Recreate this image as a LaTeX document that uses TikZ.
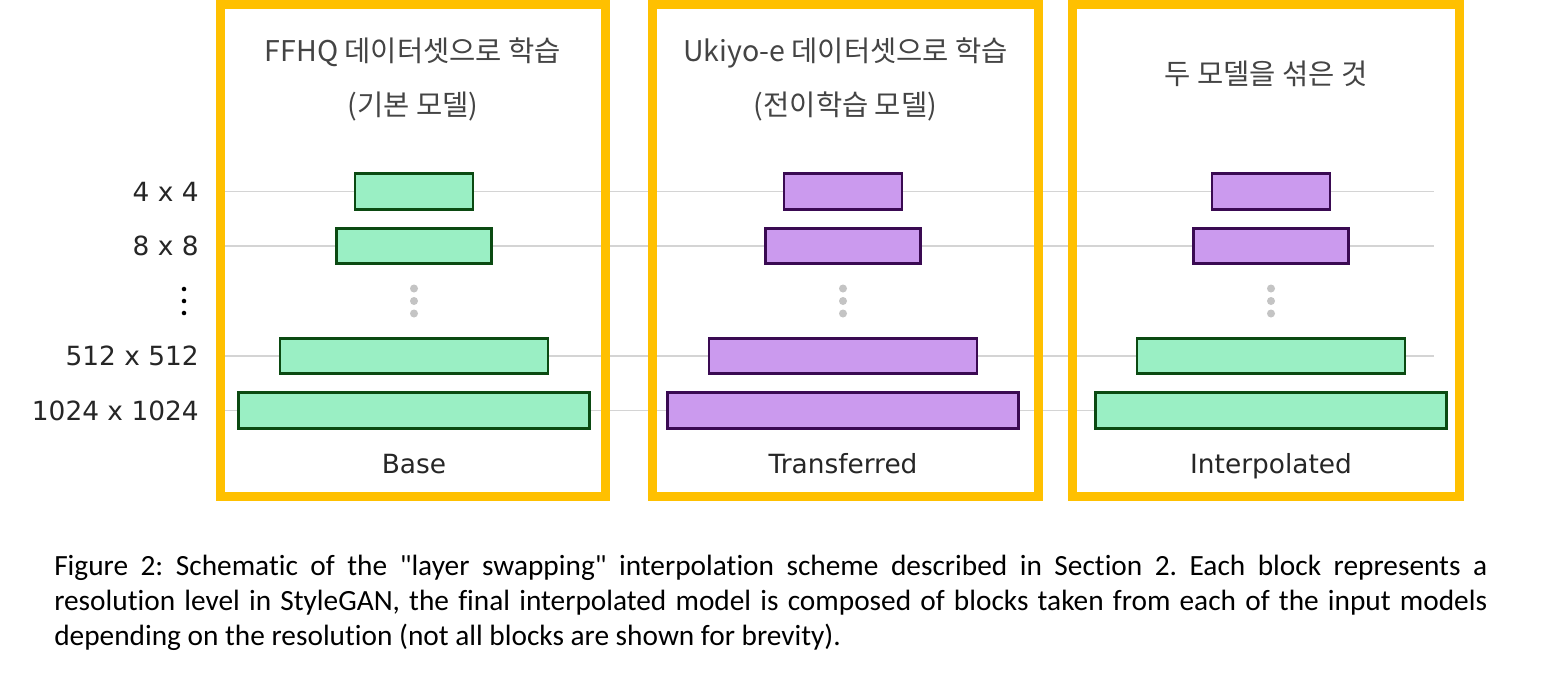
\documentclass[tikz,border=0pt]{standalone}
\usepackage{fontspec}
\setmainfont{DejaVu Sans}
\newfontfamily\krfont{Noto Sans CJK KR}
\newfontfamily\capfont[Ligatures={NoCommon}]{Carlito}
\newfontfamily\lblfont{DejaVu Sans}
\definecolor{frameor}{HTML}{FFC000}
\definecolor{gfill}{HTML}{9AEFC4}
\definecolor{gline}{HTML}{0B4A12}
\definecolor{pfill}{HTML}{CB9AEE}
\definecolor{pline}{HTML}{3A0A52}
\definecolor{rowgray}{HTML}{D4D4D4}
\definecolor{dotgray}{HTML}{C4C4C4}
\definecolor{lbltext}{HTML}{262626}
\definecolor{krtext}{HTML}{444444}
\begin{document}
\begin{tikzpicture}[x=0.75pt,y=-0.75pt,
  frame/.style={draw=frameor,line width=6.75pt},
  rowline/.style={draw=rowgray,line width=1.4pt},
  blk/.style={rectangle,line width=2.2pt,minimum height=26.4pt,inner sep=0pt},
  gblk/.style={blk,draw=gline,fill=gfill},
  pblk/.style={blk,draw=pline,fill=pfill},
  w1/.style={minimum width=88.5pt},
  w2/.style={minimum width=116.5pt},
  w3/.style={minimum width=201pt},
  w4/.style={minimum width=263pt},
  rowlbl/.style={anchor=base east,inner sep=0pt,text=lbltext,font=\lblfont\fontsize{19.8pt}{23pt}\selectfont},
  collbl/.style={anchor=base,inner sep=0pt,text=lbltext,font=\lblfont\fontsize{19.8pt}{23pt}\selectfont},
  ttl/.style={anchor=base,inner sep=0pt,text=krtext,font=\krfont\fontsize{21.4pt}{26pt}\selectfont},
  capnode/.style={anchor=base west,inner sep=0pt,text width=1074.75pt,align=justify,font=\capfont\fontsize{22pt}{26.25pt}\selectfont}
]
\useasboundingbox[fill=white] (0,0) rectangle (1541,672);

% row guide lines
\foreach \ry/\nm in {191.5/ra,246/rb,356/rc,410.5/rd}{
  \coordinate (\nm-s) at (216,\ry);
  \coordinate (\nm-e) at (1434,\ry);
  \draw[rowline] (\nm-s) -- (\nm-e);
}

% frames
\draw[frame] (220.5,4.5) rectangle (605.5,496.5);
\draw[frame] (652.5,4.5) rectangle (1038.5,496.5);
\draw[frame] (1072.5,4.5) rectangle (1459.5,496.5);

% row labels
\node[rowlbl] (lab1) at (199,201) {4 x 4};
\node[rowlbl] (lab2) at (199,255.5) {8 x 8};
\node[rowlbl] (lab3) at (199,365.5) {512 x 512};
\node[rowlbl] (lab4) at (199,420) {1024 x 1024};
\fill[black] (184,289) circle[radius=1.7pt];
\fill[black] (184,301) circle[radius=1.7pt];
\fill[black] (184,313) circle[radius=1.7pt];

% column 1 : base
\node[gblk,w1] (b1) at (414,191.5) {};
\node[gblk,w2] (b2) at (414,246) {};
\node[gblk,w3] (b3) at (414,356) {};
\node[gblk,w4] (b4) at (414,410.5) {};
% column 2 : transferred
\node[pblk,w1] (t1) at (843,191.5) {};
\node[pblk,w2] (t2) at (843,246) {};
\node[pblk,w3] (t3) at (843,356) {};
\node[pblk,w4] (t4) at (843,410.5) {};
% column 3 : interpolated
\node[pblk,w1] (i1) at (1271,191.5) {};
\node[pblk,w2] (i2) at (1271,246) {};
\node[gblk,w3] (i3) at (1271,356) {};
\node[gblk,w4] (i4) at (1271,410.5) {};

% grey dots
\foreach \cx in {414,843,1271}{
  \fill[dotgray] (\cx,288.5) circle[radius=3pt];
  \fill[dotgray] (\cx,301) circle[radius=3pt];
  \fill[dotgray] (\cx,313.5) circle[radius=3pt];
}

% column labels
\node[collbl] (c1) at (414,473.5) {Base};
\node[collbl] (c2) at (843,473.5) {Transferred};
\node[collbl] (c3) at (1271,473.5) {Interpolated};

% titles
\node[ttl] (h1a) at (413,61) {FFHQ 데이터셋으로 학습};
\node[ttl] (h1b) at (413,115) {(기본 모델)};
\node[ttl] (h2a) at (845.5,61) {Ukiyo-e 데이터셋으로 학습};
\node[ttl] (h2b) at (845.5,115) {(전이학습 모델)};
\node[ttl] (h3a) at (1266,84) {두 모델을 섞은 것};

% caption
\node[capnode] (cap) at (54,575) {\frenchspacing Figure 2: Schematic of the "layer swapping" interpolation scheme described in Section 2. Each block represents a\linebreak resolution level in StyleGAN, the final interpolated model is composed of blocks taken from each of the input models\linebreak depending on the resolution (not all blocks are shown for brevity).};
\end{tikzpicture}
\end{document}
